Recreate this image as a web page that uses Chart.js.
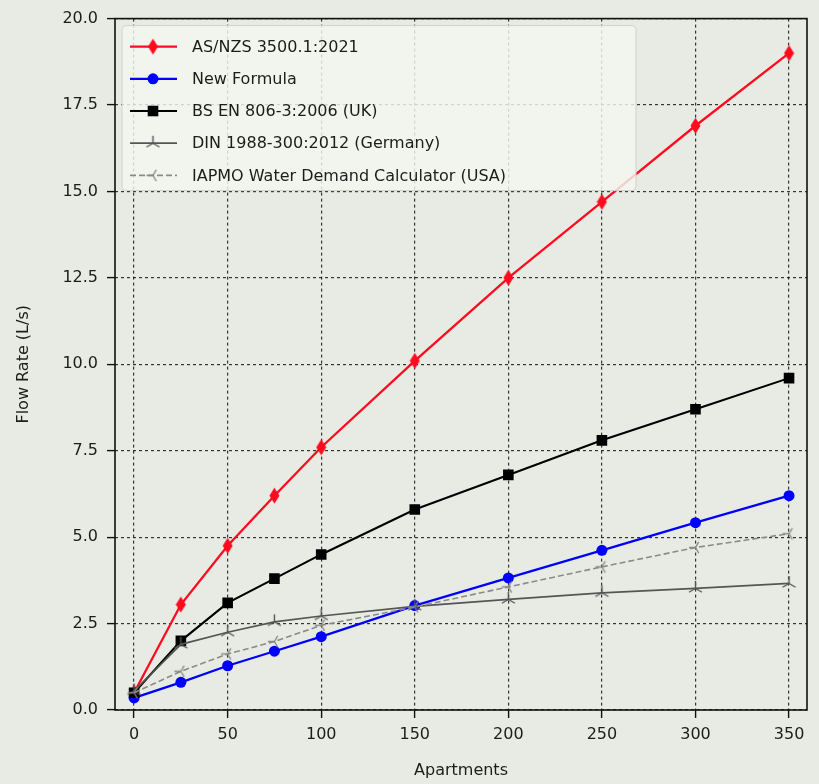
<!DOCTYPE html>
<html>
<head>
<meta charset="utf-8">
<script src="https://cdn.jsdelivr.net/npm/chart.js@4/dist/chart.umd.min.js"></script>
<style>
  html, body { margin: 0; padding: 0; background: #e8ebe4; }
  #wrap { width: 819px; height: 784px; position: relative; }
</style>
</head>
<body>
<div id="wrap"><canvas id="chart" width="819" height="784"></canvas></div>
<script>
// ----- Data -----
const apartments = [0, 25, 50, 75, 100, 150, 200, 250, 300, 350];
const asNzs = [0.5, 3.05, 4.75, 6.2, 7.6, 10.1, 12.5, 14.7, 16.9, 19.0];
const newFormula = [0.35, 0.8, 1.28, 1.7, 2.12, 3.02, 3.82, 4.62, 5.42, 6.2];
const bsEn = [0.5, 2.0, 3.1, 3.8, 4.5, 5.8, 6.8, 7.8, 8.7, 9.6];
const din = [0.55, 1.9, 2.25, 2.55, 2.72, 3.0, 3.2, 3.39, 3.52, 3.66];
const iapmo = [0.5, 1.12, 1.62, 1.98, 2.45, 2.98, 3.56, 4.14, 4.7, 5.1];

const seriesLabels = [
  'AS/NZS 3500.1:2021',
  'New Formula',
  'BS EN 806-3:2006 (UK)',
  'DIN 1988-300:2012 (Germany)',
  'IAPMO Water Demand Calculator (USA)',
];
const xTicks = [0, 50, 100, 150, 200, 250, 300, 350];
const yTicks = [0, 2.5, 5, 7.5, 10, 12.5, 15, 17.5, 20];

const FONT = "'DejaVu Sans', sans-serif";

// ----- Custom marker shapes (matplotlib thin diamond / tri markers) -----
function makeMarker(w, h, draw) {
  const c = document.createElement('canvas');
  c.width = w; c.height = h;
  draw(c.getContext('2d'), w, h);
  return c;
}
const thinDiamond = makeMarker(11, 17, (ctx, w, h) => {
  ctx.fillStyle = '#ff0a1e';
  ctx.beginPath();
  ctx.moveTo(w / 2, 0.5); ctx.lineTo(w - 0.5, h / 2);
  ctx.lineTo(w / 2, h - 0.5); ctx.lineTo(0.5, h / 2);
  ctx.closePath(); ctx.fill();
});
const triUp = makeMarker(17, 17, (ctx, w, h) => {
  ctx.strokeStyle = '#555555';
  ctx.lineWidth = 1.4;
  const cx = w / 2, cy = h / 2, r = 7.5;
  ctx.beginPath();
  [-90, 30, 150].forEach(a => {
    const t = a * Math.PI / 180;
    ctx.moveTo(cx, cy);
    ctx.lineTo(cx + r * Math.cos(t), cy + r * Math.sin(t));
  });
  ctx.stroke();
});
const triLeft = makeMarker(15, 15, (ctx, w, h) => {
  ctx.strokeStyle = '#888888';
  ctx.lineWidth = 1.3;
  const cx = w / 2, cy = h / 2, r = 6.5;
  ctx.beginPath();
  [180, -60, 60].forEach(a => {
    const t = a * Math.PI / 180;
    ctx.moveTo(cx, cy);
    ctx.lineTo(cx + r * Math.cos(t), cy + r * Math.sin(t));
  });
  ctx.stroke();
});

function pts(ys) { return apartments.map((x, i) => ({ x, y: ys[i] })); }

const datasets = [
  {
    label: seriesLabels[0], data: pts(asNzs), order: 5,
    borderColor: '#ff0a1e', backgroundColor: '#ff0a1e', borderWidth: 2.3,
    pointStyle: thinDiamond, pointRadius: 8,
  },
  {
    label: seriesLabels[1], data: pts(newFormula), order: 4,
    borderColor: '#0000ff', backgroundColor: '#0000ff', borderWidth: 2.3,
    pointStyle: 'circle', pointRadius: 5.5, pointBorderWidth: 0,
  },
  {
    label: seriesLabels[2], data: pts(bsEn), order: 3,
    borderColor: '#000000', backgroundColor: '#000000', borderWidth: 2.1,
    pointStyle: 'rect', pointRadius: 7.5, pointBorderWidth: 0,
  },
  {
    label: seriesLabels[3], data: pts(din), order: 2,
    borderColor: '#555555', backgroundColor: '#555555', borderWidth: 1.7,
    pointStyle: triUp, pointRadius: 8,
  },
  {
    label: seriesLabels[4], data: pts(iapmo), order: 1,
    borderColor: '#8a8a8a', backgroundColor: '#8a8a8a', borderWidth: 1.6,
    borderDash: [6, 3],
    pointStyle: triLeft, pointRadius: 7,
  },
];

// ----- Plugins: frame + in-axes legend -----
const frame = {
  id: 'frame',
  afterDatasetsDraw(chart) {
    const { ctx, chartArea: a } = chart;
    ctx.save();
    ctx.strokeStyle = '#111';
    ctx.lineWidth = 1.6;
    ctx.strokeRect(a.left, a.top, a.right - a.left, a.bottom - a.top);
    ctx.restore();
  },
};

const inLegend = {
  id: 'inLegend',
  afterDraw(chart) {
    const { ctx, chartArea: a } = chart;
    const x0 = a.left + 7, y0 = a.top + 7, w = 514, h = 165;
    ctx.save();
    ctx.fillStyle = 'rgba(244,246,240,0.82)';
    ctx.strokeStyle = '#cfd1cb';
    ctx.lineWidth = 1;
    ctx.beginPath();
    ctx.roundRect(x0, y0, w, h, 4);
    ctx.fill(); ctx.stroke();
    ctx.font = '16px ' + FONT;
    ctx.textBaseline = 'middle';
    datasets.forEach((ds, i) => {
      const y = y0 + 21 + i * 32.2;
      ctx.strokeStyle = ds.borderColor;
      ctx.lineWidth = ds.borderWidth;
      ctx.setLineDash(ds.borderDash || []);
      ctx.beginPath();
      ctx.moveTo(x0 + 8, y); ctx.lineTo(x0 + 55, y);
      ctx.stroke();
      ctx.setLineDash([]);
      ctx.fillStyle = ds.backgroundColor;
      ctx.strokeStyle = ds.borderColor;
      Chart.helpers.drawPoint(ctx, {
        pointStyle: ds.pointStyle, radius: ds.pointRadius, rotation: 0, borderWidth: 0,
      }, x0 + 31, y);
      ctx.fillStyle = '#1c1c1c';
      ctx.fillText(ds.label, x0 + 70, y + 1);
    });
    ctx.restore();
  },
};

const gridStyle = {
  color: 'rgba(20,20,20,0.85)',
  lineWidth: 1.2,
  drawTicks: true,
  tickLength: 8,
  tickColor: '#111',
  tickWidth: 1.4,
  tickBorderDash: [],
};

new Chart(document.getElementById('chart'), {
  type: 'line',
  data: { datasets },
  plugins: [frame, inLegend],
  options: {
    responsive: false,
    animation: false,
    layout: { padding: { top: 18, right: 12, left: 0, bottom: 0 } },
    plugins: { legend: { display: false }, tooltip: { enabled: false } },
    elements: { line: { tension: 0 } },
    scales: {
      x: {
        type: 'linear', min: -10.2, max: 359.6,
        grid: gridStyle,
        border: { display: false, dash: [3, 3] },
        afterBuildTicks: s => { s.ticks = xTicks.map(v => ({ value: v })); },
        afterFit: s => { s.height = 74; },
        ticks: {
          color: '#1c1c1c', padding: 7, maxRotation: 0,
          font: { family: FONT, size: 16 },
          callback: v => String(v),
        },
        title: {
          display: true, text: 'Apartments', color: '#1c1c1c',
          font: { family: FONT, size: 16 }, padding: { top: 0, bottom: 4 },
        },
      },
      y: {
        type: 'linear', min: 0, max: 20,
        grid: gridStyle,
        border: { display: false, dash: [3, 3] },
        afterBuildTicks: s => { s.ticks = yTicks.map(v => ({ value: v })); },
        afterFit: s => { s.width = 115; },
        ticks: {
          color: '#1c1c1c', padding: 9,
          font: { family: FONT, size: 16 },
          callback: v => Number(v).toFixed(1),
        },
        title: {
          display: true, text: 'Flow Rate (L/s)', color: '#1c1c1c',
          font: { family: FONT, size: 16 }, padding: { top: 14, bottom: 0 },
        },
      },
    },
  },
});
</script>
</body>
</html>
